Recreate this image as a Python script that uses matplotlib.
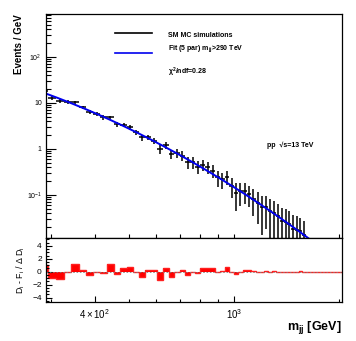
import numpy as np
import matplotlib
matplotlib.use('Agg')
import matplotlib.pyplot as plt
from matplotlib.ticker import FixedLocator, FixedFormatter, NullFormatter

plt.rcParams['font.family'] = ['Liberation Sans', 'DejaVu Sans']
plt.rcParams['mathtext.fontset'] = 'custom'
plt.rcParams['mathtext.rm'] = 'Liberation Sans'
plt.rcParams['mathtext.it'] = 'Liberation Sans:italic'
plt.rcParams['mathtext.bf'] = 'Liberation Sans:bold'
plt.rcParams['mathtext.default'] = 'regular'

# dijet mass bin edges (GeV)
bin_edges = [284, 294, 310, 326, 343, 360, 378, 396, 414, 433, 453, 473, 494, 515,
             536, 558, 581, 604, 627, 651, 675, 700, 725, 750, 776, 802, 829, 857,
             884, 912, 941, 970, 1000, 1029, 1060, 1091, 1122, 1154, 1186, 1218,
             1251, 1285, 1319, 1353, 1388, 1423, 1459, 1495, 1531, 1568, 1606,
             1644, 1682, 1721, 1760, 1800, 1840, 1880, 1921, 1963, 2005, 2047]

# SM MC events / GeV in the filled bins (first 50 bins)
events = [17.66, 13.04, 10.93, 10.54, 10.17, 7.96, 6.33, 5.77, 4.86, 4.82,
          3.47, 3.32, 2.94, 2.31, 1.77, 1.77, 1.50, 0.99, 1.19, 0.777,
          0.796, 0.718, 0.514, 0.510, 0.414, 0.454, 0.395, 0.335, 0.2455, 0.221,
          0.247, 0.159, 0.1115, 0.1198, 0.121, 0.1059, 0.0833, 0.0682, 0.0553, 0.0557,
          0.0452, 0.0409, 0.0344, 0.0274, 0.0262, 0.0229, 0.0182, 0.0176, 0.0162, 0.0135]
errors = [1.45, 1.28, 1.10, 1.05, 0.908, 0.780, 0.670, 0.635, 0.547, 0.469,
          0.438, 0.376, 0.348, 0.300, 0.277, 0.238, 0.218, 0.200, 0.194, 0.185,
          0.175, 0.164, 0.154, 0.143, 0.132, 0.122, 0.112, 0.102, 0.0933, 0.085,
          0.079, 0.0716, 0.0662, 0.0623, 0.0571, 0.0523, 0.0486, 0.0450, 0.0417, 0.0379,
          0.0344, 0.0314, 0.0286, 0.0258, 0.0236, 0.0213, 0.0193, 0.0176, 0.0154, 0.0135]

# fit result: log10(f) = p0 + p1*L + p2*L^2, L = log10(m / 1 TeV)
fit_pars = [-0.83, -4.8, -1.9]

edges = np.array(bin_edges, dtype=float)
centers = 0.5 * (edges[:-1] + edges[1:])
halfw = 0.5 * np.diff(edges)
nfill = len(events)
ev = np.array(events)
er = np.array(errors)


def fit(m):
    L = np.log10(m / 1000.0)
    return 10 ** (fit_pars[0] + fit_pars[1] * L + fit_pars[2] * L ** 2)


resid = np.zeros(len(centers))
resid[:nfill] = (ev - fit(centers[:nfill])) / er

fig = plt.figure(figsize=(3.56, 3.41), dpi=100)
ax = fig.add_axes([0.129, 0.302, 0.832, 0.657])
axr = fig.add_axes([0.129, 0.114, 0.832, 0.188], sharex=ax)

# top panel
lower = np.minimum(er, ev - 1e-6)
ax.errorbar(centers[:nfill], ev, xerr=halfw[:nfill], yerr=[lower, er], fmt='none',
            ecolor='black', elinewidth=1.1, capsize=0)
mm = np.linspace(290, 2040, 300)
ax.plot(mm, fit(mm), color='#0000ee', lw=1.4)
ax.set_xscale('log')
ax.set_yscale('log')
ax.set_xlim(290, 2040)
ax.set_ylim(0.0116, 850)

ax.yaxis.set_major_locator(FixedLocator([0.1, 1, 10, 100]))
ax.yaxis.set_major_formatter(FixedFormatter([r'$10^{-1}$', '1', '10', r'$10^{2}$']))
ax.yaxis.set_minor_locator(FixedLocator([k * 10.0 ** d for d in range(-2, 3) for k in range(2, 10)]))
ax.yaxis.set_minor_formatter(NullFormatter())
ax.tick_params(axis='y', which='major', direction='in', length=7, width=0.8, labelsize=5, pad=3)
ax.tick_params(axis='y', which='minor', direction='in', length=3.5, width=0.8)
ax.tick_params(axis='x', which='both', direction='in', length=3, width=0.8, labelbottom=False)
ax.set_ylabel('Events / GeV', fontsize=7, fontweight='bold', loc='top', labelpad=2)

# legend drawn by hand, ROOT style
ax.plot([0.233, 0.358], [0.915, 0.915], transform=ax.transAxes, color='black', lw=1.2)
ax.plot([0.233, 0.358], [0.826, 0.826], transform=ax.transAxes, color='#0000ee', lw=1.2)
ax.text(0.412, 0.897, 'SM MC simulations', transform=ax.transAxes, fontsize=5,
        fontweight='bold', va='baseline')
ax.text(0.412, 0.839, r'Fit (5 par) m$_{jj}$>290 TeV', transform=ax.transAxes, fontsize=5,
        fontweight='bold', va='baseline')
ax.text(0.412, 0.728, r'$\chi^{2}$/ndf=0.28', transform=ax.transAxes, fontsize=5,
        fontweight='bold', va='baseline')
ax.text(0.747, 0.406, 'pp  \u221as=13 TeV', transform=ax.transAxes, fontsize=5,
        fontweight='bold', va='baseline')

# ratio panel
axr.stairs(resid, edges, baseline=0, fill=True, color='#ff0000', lw=0)
axr.stairs(resid, edges, baseline=0, color='#ff2020', lw=1.0)
axr.axhline(0, color='grey', lw=0.6, ls=(0, (2, 2)))
axr.set_ylim(-4.7, 5.2)
axr.yaxis.set_major_locator(FixedLocator([-4, -2, 0, 2, 4]))
axr.yaxis.set_minor_locator(FixedLocator(np.arange(-4.5, 5.01, 0.5)))
axr.tick_params(axis='y', which='major', direction='in', length=4, width=0.8, labelsize=6, pad=3)
axr.tick_params(axis='y', which='minor', direction='in', length=2, width=0.8)
axr.xaxis.set_major_locator(FixedLocator([400, 1000]))
axr.xaxis.set_major_formatter(FixedFormatter([r'$4\times10^{2}$', r'$10^{3}$']))
axr.xaxis.set_minor_locator(FixedLocator([300, 500, 600, 700, 800, 900, 2000]))
axr.xaxis.set_minor_formatter(NullFormatter())
axr.tick_params(axis='x', which='major', direction='in', length=4, width=0.8, labelsize=7, pad=4)
axr.tick_params(axis='x', which='minor', direction='in', length=2.5, width=0.8)
axr.set_ylabel(r'D$_{i}$ - F$_{i}$ / $\Delta$ D$_{i}$', fontsize=6.3, labelpad=4)
fig.text(342 / 356, 1 - 327 / 341, r'm$_{jj}$ [GeV]', fontsize=9, fontweight='bold',
         ha='right', va='center')

for a in (ax, axr):
    for s in a.spines.values():
        s.set_linewidth(0.9)

fig.savefig('out.png', dpi=100)
